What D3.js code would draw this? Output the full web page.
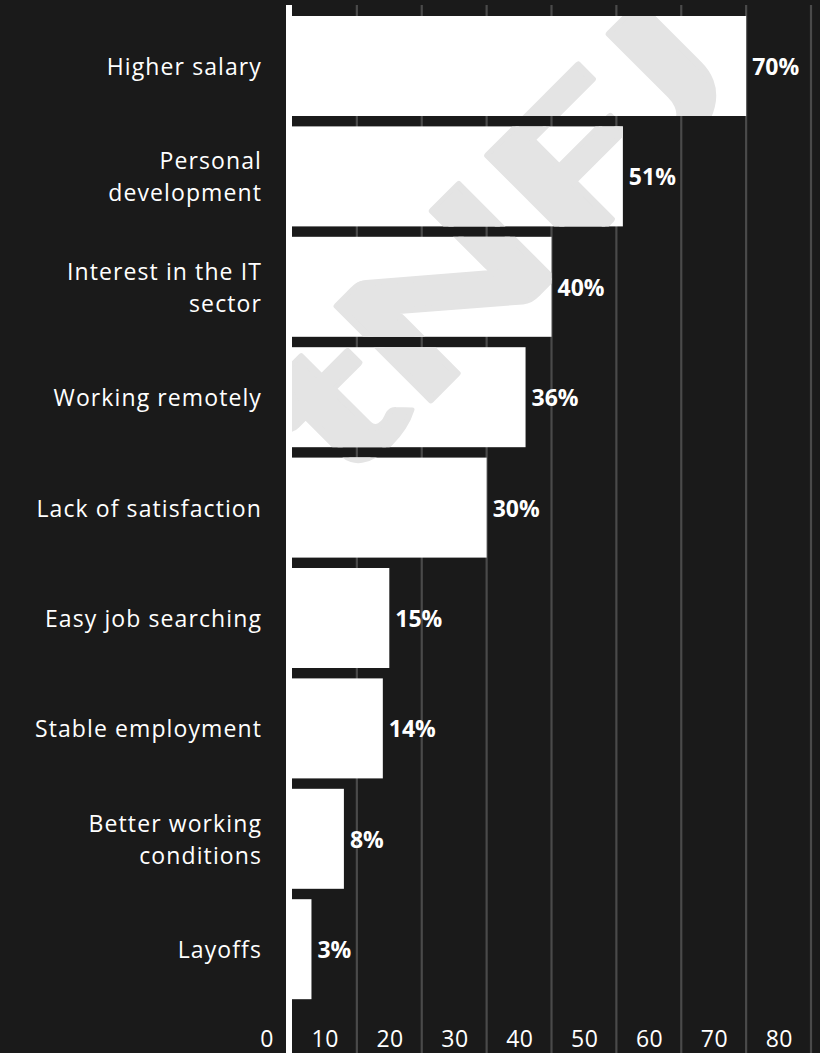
<!DOCTYPE html>
<html>
<head>
<meta charset="utf-8">
<script src="https://cdn.jsdelivr.net/npm/d3@7"></script>
<style>
  html, body { margin: 0; padding: 0; background: #1a1a1a; }
  svg { display: block; }
</style>
</head>
<body>
<svg id="chart" width="820" height="1053"></svg>
<script>
// Reasons for changing jobs, share of respondents (%)
const categories = [
  ["Higher salary"],
  ["Personal", "development"],
  ["Interest in the IT", "sector"],
  ["Working remotely"],
  ["Lack of satisfaction"],
  ["Easy job searching"],
  ["Stable employment"],
  ["Better working", "conditions"],
  ["Layoffs"]
];
const values = [70, 51, 40, 36, 30, 15, 14, 8, 3];
const tickValues = [0, 10, 20, 30, 40, 50, 60, 70, 80];

const W = 820, H = 1053;
const svg = d3.select("#chart");
const FONT = "'Open Sans', 'Noto Sans', sans-serif";

svg.append("rect").attr("width", W).attr("height", H).attr("fill", "#1a1a1a");

const x = d3.scaleLinear().domain([0, 80]).range([292, 811]);
const y = d3.scaleBand()
  .domain(d3.range(categories.length))
  .range([16, 999.2])
  .paddingInner(0.0942)
  .paddingOuter(0);

// vertical gridlines
svg.append("g")
  .selectAll("line")
  .data(tickValues.filter(d => d > 0))
  .join("line")
  .attr("x1", d => x(d)).attr("x2", d => x(d))
  .attr("y1", 5).attr("y2", H)
  .attr("stroke", "#4a4a4a")
  .attr("stroke-width", 2.2);

// bars
const bars = svg.append("g");
bars.selectAll("rect")
  .data(values)
  .join("rect")
  .attr("x", x(0))
  .attr("y", (d, i) => y(i))
  .attr("width", d => x(d) - x(0))
  .attr("height", y.bandwidth())
  .attr("fill", "#ffffff");

// watermark, only visible on the bars
const clip = svg.append("defs").append("clipPath").attr("id", "barClip");
clip.selectAll("rect")
  .data(values)
  .join("rect")
  .attr("x", x(0))
  .attr("y", (d, i) => y(i))
  .attr("width", d => x(d) - x(0))
  .attr("height", y.bandwidth());

svg.append("g")
  .attr("clip-path", "url(#barClip)")
  .append("text")
  .attr("transform", "translate(494,236) rotate(-45)")
  .attr("text-anchor", "middle")
  .attr("dominant-baseline", "central")
  .attr("font-family", "'Lato', 'DejaVu Sans', sans-serif")
  .attr("font-weight", 900)
  .attr("font-size", 185)
  .attr("textLength", 570)
  .attr("lengthAdjust", "spacingAndGlyphs")
  .attr("fill", "#e4e4e4")
  .attr("stroke", "#e4e4e4")
  .attr("stroke-width", 5)
  .attr("stroke-linejoin", "round")
  .text("tNFJ");

// zero baseline
svg.append("rect")
  .attr("x", x(0) - 6).attr("y", 5)
  .attr("width", 6).attr("height", H - 5)
  .attr("fill", "#ffffff");

// category labels
const labels = svg.append("g")
  .attr("font-family", FONT)
  .attr("font-size", 23)
  .attr("letter-spacing", 1.1)
  .attr("fill", "#ffffff")
  .attr("text-anchor", "end");
categories.forEach((lines, i) => {
  const cy = y(i) + y.bandwidth() / 2;
  const t = labels.append("text")
    .attr("x", 262)
    .attr("y", cy - (lines.length - 1) * 16)
    .attr("dominant-baseline", "central");
  lines.forEach((ln, k) => {
    t.append("tspan")
      .attr("x", 262)
      .attr("dy", k === 0 ? 0 : 32)
      .text(ln);
  });
});

// value labels
svg.append("g")
  .selectAll("text")
  .data(values)
  .join("text")
  .attr("x", d => x(d) + 6)
  .attr("y", (d, i) => y(i) + y.bandwidth() / 2)
  .attr("dominant-baseline", "central")
  .attr("font-family", FONT)
  .attr("font-weight", 700)
  .attr("font-size", 23)
  .attr("fill", "#ffffff")
  .text(d => d + "%");

// x-axis tick labels
svg.append("g")
  .selectAll("text")
  .data(tickValues)
  .join("text")
  .attr("x", d => x(d) - 18)
  .attr("y", 1047)
  .attr("text-anchor", "end")
  .attr("font-family", FONT)
  .attr("font-size", 23)
  .attr("letter-spacing", 0.5)
  .attr("fill", "#ffffff")
  .text(d => d);
</script>
</body>
</html>
